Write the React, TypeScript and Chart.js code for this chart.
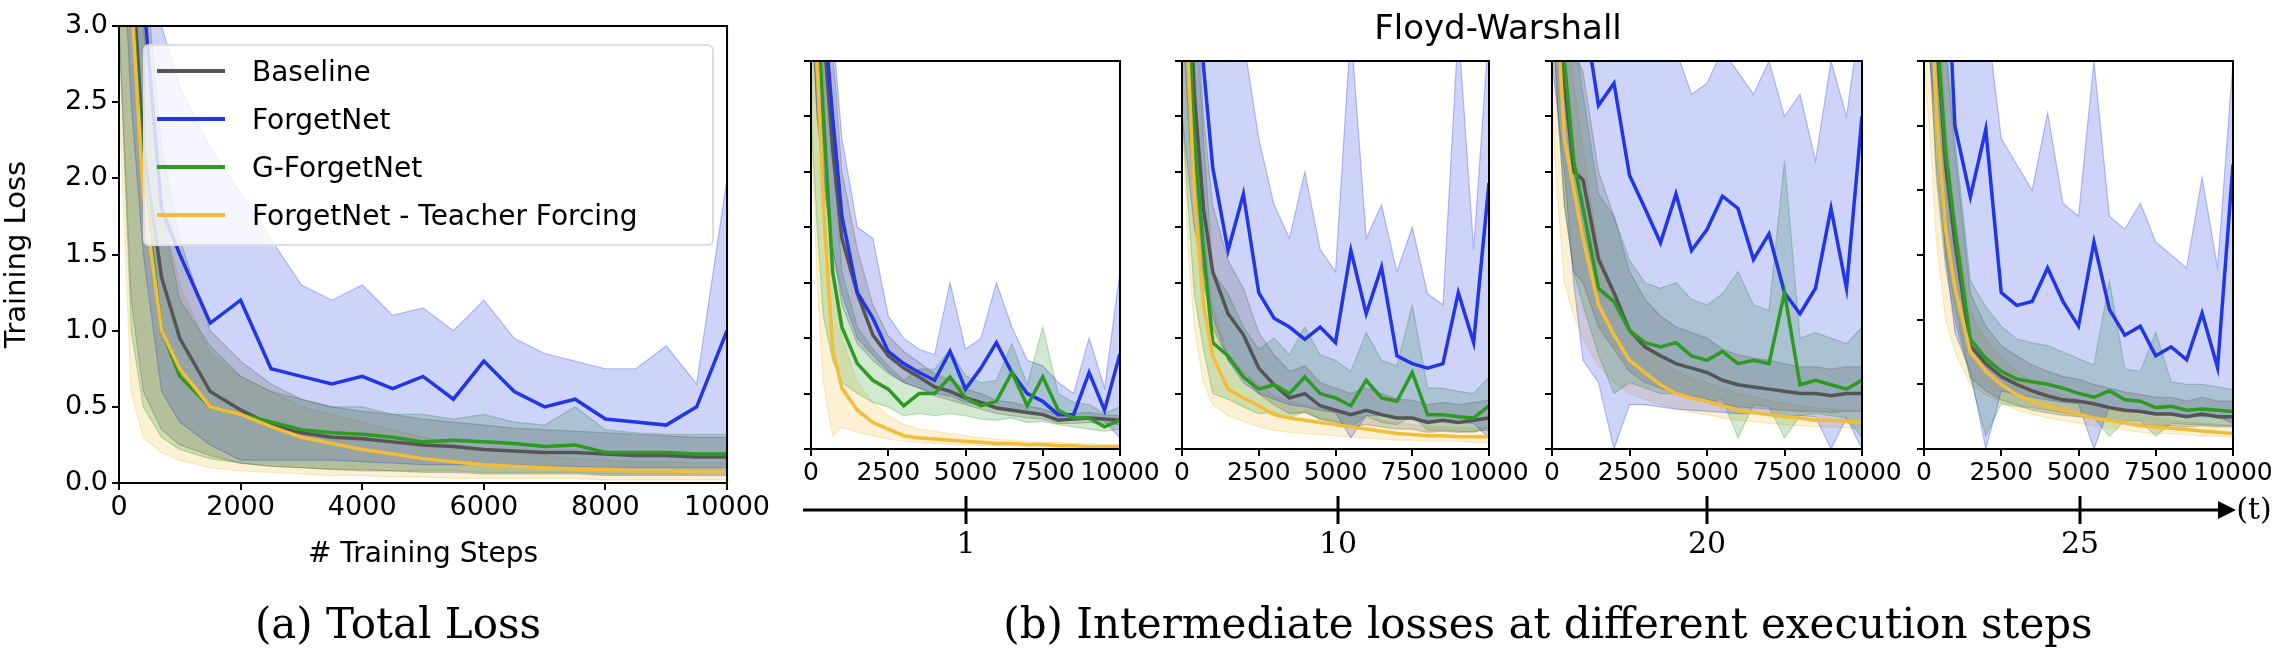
import React, { useEffect, useRef } from 'react';
import Chart from 'chart.js/auto';

const steps = [0, 200, 400, 700, 1000, 1500, 2000, 2500, 3000, 3500, 4000, 4500, 5000, 5500, 6000, 6500, 7000, 7500, 8000, 8500, 9000, 9500, 10000];
const legendLabels = ['Baseline', 'ForgetNet', 'G-ForgetNet', 'ForgetNet - Teacher Forcing'];
const colors = ['#555555', '#2236e6', '#2e9a22', '#f3bd3c'];
const execSteps = ['1', '10', '20', '25'];

// (a) total loss
const aBase = [5, 3.5, 2.2, 1.35, 0.95, 0.6, 0.48, 0.38, 0.33, 0.3, 0.29, 0.27, 0.25, 0.24, 0.22, 0.21, 0.2, 0.2, 0.19, 0.18, 0.18, 0.17, 0.17];
const aBaseLo = [3, 1.2, 0.6, 0.35, 0.25, 0.18, 0.13, 0.11, 0.1, 0.09, 0.08, 0.08, 0.07, 0.07, 0.06, 0.06, 0.06, 0.06, 0.05, 0.05, 0.05, 0.05, 0.05];
const aBaseHi = [6, 5, 3.5, 2.2, 1.6, 1.0, 0.8, 0.65, 0.55, 0.5, 0.47, 0.45, 0.42, 0.4, 0.38, 0.36, 0.35, 0.34, 0.33, 0.32, 0.31, 0.3, 0.3];
const aForget = [6, 5, 3.2, 1.8, 1.5, 1.05, 1.2, 0.75, 0.7, 0.65, 0.7, 0.62, 0.7, 0.55, 0.8, 0.6, 0.5, 0.55, 0.42, 0.4, 0.38, 0.5, 1.0];
const aForgetLo = [4, 2.5, 1.5, 0.6, 0.4, 0.25, 0.15, 0.15, 0.15, 0.15, 0.14, 0.13, 0.12, 0.12, 0.12, 0.12, 0.11, 0.11, 0.1, 0.1, 0.1, 0.1, 0.1];
const aForgetHi = [8, 6, 4, 3, 2.6, 2.2, 1.9, 1.6, 1.3, 1.2, 1.3, 1.1, 1.15, 1.0, 1.2, 0.95, 0.85, 0.8, 0.75, 0.75, 0.9, 0.65, 2.0];
const aG = [5, 3.3, 2.0, 1.0, 0.7, 0.5, 0.45, 0.4, 0.35, 0.33, 0.32, 0.3, 0.27, 0.28, 0.27, 0.26, 0.24, 0.25, 0.2, 0.2, 0.2, 0.19, 0.19];
const aGLo = [3, 1.0, 0.5, 0.3, 0.22, 0.16, 0.13, 0.11, 0.1, 0.09, 0.09, 0.08, 0.08, 0.08, 0.07, 0.07, 0.07, 0.07, 0.06, 0.06, 0.06, 0.06, 0.06];
const aGHi = [6, 4.5, 3, 1.8, 1.2, 0.9, 0.7, 0.6, 0.55, 0.5, 0.5, 0.45, 0.45, 0.42, 0.45, 0.4, 0.38, 0.5, 0.35, 0.33, 0.32, 0.32, 0.32];
const aTF = [5, 3.2, 1.9, 1.0, 0.75, 0.5, 0.45, 0.37, 0.3, 0.26, 0.22, 0.19, 0.16, 0.14, 0.12, 0.11, 0.1, 0.09, 0.09, 0.08, 0.08, 0.07, 0.07];
const aTFLo = [2.5, 0.6, 0.3, 0.2, 0.15, 0.1, 0.08, 0.07, 0.06, 0.05, 0.05, 0.04, 0.04, 0.03, 0.03, 0.03, 0.03, 0.03, 0.02, 0.02, 0.02, 0.02, 0.02];
const aTFHi = [6, 4.5, 3, 1.8, 1.3, 0.85, 0.7, 0.6, 0.5, 0.45, 0.4, 0.35, 0.3, 0.25, 0.22, 0.2, 0.18, 0.16, 0.15, 0.14, 0.14, 0.13, 0.13];

// (b) t = 1
const b1Base = [6, 5, 3.8, 2.7, 1.9, 1.4, 1.03, 0.84, 0.73, 0.65, 0.56, 0.52, 0.46, 0.42, 0.37, 0.35, 0.33, 0.31, 0.26, 0.27, 0.28, 0.27, 0.26];
const b1BaseLo = [4, 3, 2.4, 1.8, 1.3, 0.95, 0.8, 0.68, 0.6, 0.55, 0.48, 0.44, 0.4, 0.36, 0.32, 0.3, 0.28, 0.27, 0.23, 0.23, 0.24, 0.23, 0.22];
const b1BaseHi = [8, 7, 5, 3.6, 2.5, 1.8, 1.3, 1.02, 0.88, 0.78, 0.68, 0.62, 0.54, 0.5, 0.44, 0.42, 0.39, 0.36, 0.31, 0.32, 0.33, 0.31, 0.3];
const b1Forget = [6, 5, 4, 3.0, 2.1, 1.41, 1.18, 0.88, 0.77, 0.69, 0.62, 0.88, 0.54, 0.73, 0.96, 0.69, 0.5, 0.43, 0.31, 0.31, 0.69, 0.35, 0.86];
const b1ForgetLo = [4, 3, 2.5, 1.8, 1.4, 1.0, 0.85, 0.7, 0.6, 0.55, 0.5, 0.48, 0.42, 0.4, 0.38, 0.36, 0.33, 0.3, 0.27, 0.26, 0.28, 0.25, 0.1];
const b1ForgetHi = [8, 6, 5, 3.8, 2.8, 2.0, 1.9, 1.2, 1.0, 0.9, 0.85, 1.5, 0.9, 1.0, 1.5, 1.1, 0.8, 0.75, 0.6, 0.5, 1.0, 0.55, 1.6];
const b1G = [5, 4, 3, 1.6, 1.1, 0.77, 0.62, 0.54, 0.39, 0.5, 0.5, 0.65, 0.46, 0.39, 0.43, 0.69, 0.39, 0.65, 0.35, 0.28, 0.28, 0.2, 0.26];
const b1GLo = [3, 2, 1.2, 0.8, 0.6, 0.5, 0.42, 0.38, 0.3, 0.32, 0.3, 0.32, 0.3, 0.27, 0.26, 0.28, 0.24, 0.25, 0.22, 0.2, 0.18, 0.16, 0.18];
const b1GHi = [7, 6, 4.5, 2.8, 1.6, 1.1, 0.9, 0.75, 0.62, 0.72, 0.72, 0.9, 0.66, 0.6, 0.62, 0.95, 0.58, 1.1, 0.5, 0.42, 0.4, 0.32, 0.38];
const b1TF = [5, 3.5, 2.2, 0.9, 0.55, 0.35, 0.24, 0.18, 0.12, 0.1, 0.09, 0.08, 0.07, 0.06, 0.05, 0.05, 0.04, 0.04, 0.03, 0.03, 0.02, 0.02, 0.02];
const b1TFLo = [3, 1.5, 0.6, 0.12, 0.2, 0.15, 0.12, 0.09, 0.07, 0.06, 0.05, 0.04, 0.04, 0.03, 0.03, 0.03, 0.02, 0.02, 0.02, 0.01, 0.01, 0.01, 0.01];
const b1TFHi = [7, 5, 3.5, 1.6, 1.0, 0.6, 0.42, 0.3, 0.22, 0.18, 0.16, 0.14, 0.12, 0.1, 0.09, 0.08, 0.07, 0.06, 0.06, 0.05, 0.05, 0.04, 0.04];

// (b) t = 10
const b10Base = [6, 4.5, 3.2, 2.17, 1.6, 1.22, 1.03, 0.73, 0.58, 0.46, 0.5, 0.39, 0.35, 0.31, 0.35, 0.31, 0.28, 0.28, 0.24, 0.26, 0.24, 0.26, 0.28];
const b10BaseLo = [4, 3, 2.2, 1.5, 1.1, 0.8, 0.65, 0.5, 0.4, 0.32, 0.33, 0.27, 0.24, 0.2, 0.22, 0.2, 0.18, 0.18, 0.15, 0.16, 0.15, 0.16, 0.17];
const b10BaseHi = [8, 6.5, 4.5, 3, 2.2, 1.7, 1.45, 1.05, 0.85, 0.7, 0.75, 0.6, 0.55, 0.5, 0.55, 0.5, 0.45, 0.44, 0.4, 0.42, 0.4, 0.42, 0.44];
const b10Forget = [7, 6, 5, 3.45, 2.54, 1.79, 2.3, 1.41, 1.18, 1.1, 0.99, 1.1, 0.96, 1.79, 1.22, 1.64, 0.84, 0.77, 0.73, 0.77, 1.41, 0.96, 2.4];
const b10ForgetLo = [3, 2.5, 2, 1.6, 1.2, 0.8, 0.6, 0.5, 0.45, 0.4, 0.38, 0.35, 0.33, 0.1, 0.3, 0.3, 0.28, 0.27, 0.26, 0.25, 0.24, 0.23, 0.1];
const b10ForgetHi = [8, 7, 6, 5, 4, 3.8, 3.7, 2.8, 2.2, 1.9, 2.5, 1.8, 1.6, 3.8, 1.9, 2.2, 1.6, 2.0, 1.4, 1.3, 3.8, 1.8, 3.8];
const b10G = [5, 4, 2.8, 1.8, 0.96, 0.84, 0.65, 0.54, 0.58, 0.5, 0.65, 0.5, 0.46, 0.39, 0.62, 0.46, 0.43, 0.69, 0.31, 0.31, 0.29, 0.28, 0.39];
const b10GLo = [3, 2.2, 1.4, 0.9, 0.5, 0.45, 0.38, 0.32, 0.33, 0.28, 0.34, 0.27, 0.25, 0.2, 0.3, 0.24, 0.22, 0.3, 0.17, 0.17, 0.16, 0.15, 0.2];
const b10GHi = [7, 6, 4.2, 2.8, 1.6, 1.4, 1.1, 0.9, 1.0, 0.85, 1.1, 0.85, 0.8, 0.7, 1.05, 0.8, 0.75, 1.3, 0.55, 0.55, 0.52, 0.5, 0.65];
const b10TF = [5, 3.5, 2.3, 1.3, 0.84, 0.54, 0.46, 0.39, 0.31, 0.28, 0.26, 0.24, 0.22, 0.2, 0.18, 0.16, 0.14, 0.13, 0.12, 0.12, 0.11, 0.11, 0.11];
const b10TFLo = [3, 1.8, 1.1, 0.6, 0.4, 0.3, 0.25, 0.2, 0.17, 0.15, 0.14, 0.13, 0.12, 0.11, 0.1, 0.09, 0.08, 0.08, 0.07, 0.07, 0.07, 0.06, 0.06];
const b10TFHi = [7, 5, 3.5, 2.0, 1.3, 0.85, 0.7, 0.58, 0.48, 0.43, 0.4, 0.37, 0.34, 0.31, 0.28, 0.26, 0.24, 0.22, 0.2, 0.2, 0.19, 0.19, 0.19];

// (b) t = 20
const b20Base = [6, 4.5, 3.3, 2.5, 2.43, 1.71, 1.41, 1.07, 0.92, 0.84, 0.77, 0.73, 0.69, 0.62, 0.58, 0.56, 0.54, 0.52, 0.5, 0.5, 0.48, 0.5, 0.5];
const b20BaseLo = [4, 3, 2.2, 1.6, 1.5, 1.1, 0.9, 0.7, 0.6, 0.55, 0.5, 0.48, 0.45, 0.4, 0.38, 0.37, 0.36, 0.35, 0.34, 0.34, 0.33, 0.34, 0.34];
const b20BaseHi = [8, 6.5, 4.8, 3.6, 3.4, 2.5, 2.1, 1.6, 1.35, 1.2, 1.1, 1.05, 1.0, 0.9, 0.85, 0.82, 0.8, 0.77, 0.74, 0.74, 0.72, 0.74, 0.74];
const b20Forget = [7, 6, 5, 4.5, 4, 3.1, 3.3, 2.47, 2.17, 1.86, 2.3, 1.79, 1.98, 2.28, 2.17, 1.71, 1.94, 1.41, 1.22, 1.45, 2.17, 1.45, 3.0];
const b20ForgetLo = [3.5, 3, 2.5, 1.5, 0.8, 0.6, 0.0, 0.4, 0.4, 0.38, 0.36, 0.35, 0.34, 0.33, 0.32, 0.32, 0.31, 0.3, 0.3, 0.29, 0.0, 0.28, 0.0];
const b20ForgetHi = [8, 8, 8, 8, 6, 5, 5, 4, 3.8, 3.5, 3.6, 3.2, 3.3, 3.6, 3.4, 3.2, 3.5, 3.0, 3.2, 2.6, 3.5, 3.0, 4];
const b20G = [6, 4.8, 3.5, 2.6, 2.17, 1.45, 1.33, 1.07, 0.96, 0.92, 0.96, 0.84, 0.8, 0.88, 0.77, 0.8, 0.77, 1.41, 0.58, 0.62, 0.58, 0.54, 0.62];
const b20GLo = [4, 3, 2.2, 1.6, 1.3, 0.85, 0.5, 0.6, 0.55, 0.5, 0.5, 0.45, 0.42, 0.45, 0.1, 0.4, 0.38, 0.1, 0.3, 0.32, 0.3, 0.28, 0.1];
const b20GHi = [8, 7, 5, 3.8, 3.2, 2.3, 2.1, 1.7, 1.5, 1.45, 1.5, 1.35, 1.3, 1.4, 1.6, 1.3, 1.25, 2.6, 1.0, 1.05, 1.0, 0.95, 1.1];
const b20TF = [5, 3.8, 2.8, 2.35, 1.9, 1.3, 1.03, 0.8, 0.69, 0.58, 0.5, 0.46, 0.43, 0.39, 0.35, 0.33, 0.31, 0.29, 0.28, 0.26, 0.26, 0.25, 0.24];
const b20TFLo = [3, 2.2, 1.5, 1.2, 1.0, 0.75, 0.6, 0.5, 0.45, 0.4, 0.36, 0.33, 0.31, 0.28, 0.26, 0.25, 0.23, 0.22, 0.21, 0.2, 0.2, 0.19, 0.19];
const b20TFHi = [7, 5.5, 4, 3.3, 2.7, 1.8, 1.4, 1.1, 0.95, 0.8, 0.7, 0.64, 0.6, 0.55, 0.5, 0.47, 0.44, 0.41, 0.39, 0.37, 0.36, 0.35, 0.34];

// (b) t = 25
const b25Base = [6, 4.5, 3.2, 2.2, 1.6, 0.8, 0.66, 0.56, 0.5, 0.45, 0.41, 0.38, 0.37, 0.35, 0.32, 0.3, 0.29, 0.27, 0.27, 0.25, 0.27, 0.25, 0.25];
const b25BaseLo = [4, 3, 2.1, 1.4, 1.0, 0.55, 0.45, 0.38, 0.34, 0.3, 0.28, 0.26, 0.25, 0.24, 0.22, 0.2, 0.19, 0.18, 0.18, 0.17, 0.18, 0.17, 0.17];
const b25BaseHi = [8, 6.5, 4.5, 3.1, 2.3, 1.2, 0.95, 0.8, 0.72, 0.65, 0.6, 0.56, 0.54, 0.5, 0.47, 0.44, 0.42, 0.4, 0.4, 0.37, 0.4, 0.37, 0.37];
const b25Forget = [7, 6, 5, 4, 2.5, 1.95, 2.47, 1.21, 1.11, 1.14, 1.4, 1.14, 0.95, 1.6, 1.08, 0.88, 0.95, 0.72, 0.79, 0.69, 1.05, 0.63, 2.2];
const b25ForgetLo = [3.5, 3, 2.5, 1.5, 0.9, 0.6, 0.0, 0.45, 0.42, 0.4, 0.38, 0.36, 0.35, 0.0, 0.33, 0.3, 0.3, 0.28, 0.27, 0.26, 0.25, 0.25, 0.2];
const b25ForgetHi = [8, 8, 7, 6, 4.5, 3.5, 3.4, 2.4, 2.2, 2.0, 2.6, 1.9, 1.8, 3.0, 1.8, 1.7, 1.9, 1.6, 1.5, 1.4, 2.1, 1.4, 3.0];
const b25G = [6, 4.6, 3.3, 2.3, 1.7, 0.85, 0.7, 0.6, 0.54, 0.52, 0.5, 0.47, 0.43, 0.4, 0.45, 0.38, 0.37, 0.32, 0.33, 0.3, 0.31, 0.3, 0.29];
const b25GLo = [4, 3, 2.2, 1.5, 1.1, 0.55, 0.1, 0.35, 0.33, 0.32, 0.3, 0.28, 0.26, 0.24, 0.1, 0.22, 0.22, 0.1, 0.2, 0.19, 0.19, 0.18, 0.18];
const b25GHi = [8, 6.5, 4.6, 3.2, 2.4, 1.3, 1.1, 0.95, 0.85, 0.82, 0.8, 0.75, 0.7, 0.65, 1.3, 0.62, 0.6, 0.9, 0.52, 0.5, 0.5, 0.48, 0.46];
const b25TF = [5, 3.8, 2.6, 1.7, 1.25, 0.75, 0.6, 0.5, 0.42, 0.37, 0.33, 0.3, 0.27, 0.24, 0.22, 0.2, 0.18, 0.17, 0.16, 0.15, 0.14, 0.13, 0.12];
const b25TFLo = [3, 2.4, 1.6, 1.0, 0.75, 0.5, 0.42, 0.36, 0.3, 0.27, 0.24, 0.22, 0.2, 0.18, 0.16, 0.15, 0.13, 0.12, 0.12, 0.11, 0.1, 0.1, 0.09];
const b25TFHi = [7, 5.5, 3.8, 2.5, 1.8, 1.05, 0.85, 0.7, 0.6, 0.52, 0.46, 0.42, 0.38, 0.34, 0.31, 0.28, 0.26, 0.24, 0.22, 0.21, 0.2, 0.19, 0.18];

type Band = [number[], number[], number[]];

const alpha = (hex: string, a: number) => {
  const n = parseInt(hex.slice(1), 16);
  return `rgba(${(n >> 16) & 255},${(n >> 8) & 255},${n & 255},${a})`;
};

const frame = {
  id: 'frame',
  afterDraw(chart: any) {
    const { ctx, chartArea: c } = chart;
    ctx.save();
    ctx.strokeStyle = '#000';
    ctx.lineWidth = 2;
    ctx.strokeRect(c.left, c.top, c.right - c.left, c.bottom - c.top);
    ctx.restore();
  },
};

interface PanelProps {
  series: Band[];
  yMax: number;
  xStep: number;
  left: number;
  width: number;
  height: number;
  yAxisW: number;
  xAxisH: number;
  padTop: number;
  padRight: number;
  yLabels: boolean;
  tickSize: number;
  xTitle?: string;
  yTitle?: string;
}

function Panel(p: PanelProps) {
  const ref = useRef<HTMLCanvasElement>(null);

  useEffect(() => {
    if (!ref.current) return;
    const datasets: any[] = [];
    p.series.forEach(([mean, lo, hi], i) => {
      datasets.push({
        data: steps.map((s, k) => ({ x: s, y: hi[k] })),
        borderColor: alpha(colors[i], 0.3), borderWidth: 1.2,
        backgroundColor: alpha(colors[i], 0.22), fill: '+1', order: 20 + i,
      });
      datasets.push({
        data: steps.map((s, k) => ({ x: s, y: lo[k] })),
        borderColor: alpha(colors[i], 0.3), borderWidth: 1.2, fill: false, order: 20 + i,
      });
    });
    const lineOrder = [4, 3, 2, 1];
    p.series.forEach(([mean], i) => {
      datasets.push({
        data: steps.map((s, k) => ({ x: s, y: mean[k] })),
        borderColor: colors[i], borderWidth: 3.5, fill: false, order: lineOrder[i],
      });
    });
    const font = { family: 'DejaVu Sans', size: p.tickSize };
    const chart = new Chart(ref.current, {
      type: 'line',
      data: { datasets },
      plugins: [frame],
      options: {
        animation: false,
        responsive: true,
        maintainAspectRatio: false,
        elements: { point: { radius: 0 }, line: { tension: 0 } },
        layout: { padding: { top: p.padTop, right: p.padRight, left: 0, bottom: 0 } },
        plugins: { legend: { display: false }, tooltip: { enabled: false } },
        scales: {
          x: {
            type: 'linear', min: 0, max: 10000,
            afterFit: (s: any) => { s.height = p.xAxisH; },
            ticks: { stepSize: p.xStep, color: '#000', font, padding: 2, maxRotation: 0, autoSkip: false, callback: (v: any) => String(v) },
            grid: { drawOnChartArea: false, drawTicks: true, tickLength: 7, color: '#000', lineWidth: 2 },
            border: { display: true, color: '#000', width: 2 },
            title: { display: !!p.xTitle, text: p.xTitle, color: '#000', font: { family: 'DejaVu Sans', size: 28 }, padding: { top: 0, bottom: 8 } },
          },
          y: {
            min: 0, max: p.yMax,
            afterFit: (s: any) => { s.width = p.yAxisW; },
            ticks: {
              stepSize: 0.5, color: '#000', font, padding: 4,
              callback: (v: any) => (p.yLabels ? Number(v).toFixed(1) : ''),
            },
            grid: { drawOnChartArea: false, drawTicks: true, tickLength: 7, color: '#000', lineWidth: 2 },
            border: { display: true, color: '#000', width: 2 },
            title: { display: !!p.yTitle, text: p.yTitle, color: '#000', font: { family: 'DejaVu Sans', size: 29 }, padding: { top: 0, bottom: 6 } },
          },
        },
      },
    });
    return () => chart.destroy();
  }, []);

  return (
    <div style={{ position: 'absolute', left: p.left, top: 0, width: p.width, height: p.height }}>
      <canvas ref={ref}></canvas>
    </div>
  );
}

const small: { left: number; plotW: number; yMax: number; series: Band[] }[] = [
  { left: 811, plotW: 309, yMax: 3.5, series: [[b1Base, b1BaseLo, b1BaseHi], [b1Forget, b1ForgetLo, b1ForgetHi], [b1G, b1GLo, b1GHi], [b1TF, b1TFLo, b1TFHi]] },
  { left: 1182, plotW: 307, yMax: 3.5, series: [[b10Base, b10BaseLo, b10BaseHi], [b10Forget, b10ForgetLo, b10ForgetHi], [b10G, b10GLo, b10GHi], [b10TF, b10TFLo, b10TFHi]] },
  { left: 1552, plotW: 310, yMax: 3.5, series: [[b20Base, b20BaseLo, b20BaseHi], [b20Forget, b20ForgetLo, b20ForgetHi], [b20G, b20GLo, b20GHi], [b20TF, b20TFLo, b20TFHi]] },
  { left: 1924, plotW: 309, yMax: 3.0, series: [[b25Base, b25BaseLo, b25BaseHi], [b25Forget, b25ForgetLo, b25ForgetHi], [b25G, b25GLo, b25GHi], [b25TF, b25TFLo, b25TFHi]] },
];
const tickXs = [966, 1338, 1707, 2080];

export default function App() {
  const serif = { fontFamily: 'DejaVu Serif', color: '#000', position: 'absolute' as const, whiteSpace: 'nowrap' as const };
  return (
    <div style={{ position: 'absolute', left: 0, top: 0, width: 2273, height: 656, background: '#fff', overflow: 'hidden' }}>
      <Panel
        series={[[aBase, aBaseLo, aBaseHi], [aForget, aForgetLo, aForgetHi], [aG, aGLo, aGHi], [aTF, aTFLo, aTFHi]]}
        yMax={3} xStep={2000} left={0} width={772} height={580} yAxisW={119} xAxisH={97}
        padTop={26} padRight={41} yLabels tickSize={27} xTitle="# Training Steps" yTitle="Training Loss"
      />
      {/* legend */}
      <div style={{ position: 'absolute', left: 143, top: 44, width: 571, height: 202, background: 'rgba(255,255,255,0.8)', border: '2px solid #ddd', borderRadius: 6, boxSizing: 'border-box' }}>
        {legendLabels.map((l, i) => (
          <div key={l} style={{ position: 'absolute', left: 12, top: 25 + i * 48 - 20, height: 40, display: 'flex', alignItems: 'center' }}>
            <div style={{ width: 68, height: 4, background: colors[i], marginRight: 27 }} />
            <span style={{ fontFamily: 'DejaVu Sans', fontSize: 28, color: '#000' }}>{l}</span>
          </div>
        ))}
      </div>
      {small.map((s, i) => (
        <Panel key={i} series={s.series} yMax={s.yMax} xStep={2500} left={s.left - 30} width={s.plotW + 30 + 45} height={500}
          yAxisW={30} xAxisH={51} padTop={61} padRight={45} yLabels={false} tickSize={25} />
      ))}
      <div style={{ ...serif, fontFamily: 'DejaVu Sans', fontSize: 34, left: 1498, top: 27, transform: 'translate(-50%,-50%)' }}>Floyd-Warshall</div>
      <svg style={{ position: 'absolute', left: 0, top: 0 }} width={2273} height={656}>
        <line x1={803} y1={510} x2={2222} y2={510} stroke="#000" strokeWidth={3} />
        <polygon points="2218,501 2236,510 2218,519" fill="#000" />
        {tickXs.map((x) => <line key={x} x1={x} y1={496} x2={x} y2={524} stroke="#000" strokeWidth={3} />)}
      </svg>
      {execSteps.map((t, i) => (
        <div key={t} style={{ ...serif, fontSize: 30, left: tickXs[i], top: 542, transform: 'translate(-50%,-50%)' }}>{t}</div>
      ))}
      <div style={{ ...serif, fontSize: 30, left: 2254, top: 508, transform: 'translate(-50%,-50%)' }}>(t)</div>
      <div style={{ ...serif, fontSize: 42, left: 398, top: 623, transform: 'translate(-50%,-50%)' }}>(a) Total Loss</div>
      <div style={{ ...serif, fontSize: 42, left: 1548, top: 623, transform: 'translate(-50%,-50%)' }}>(b) Intermediate losses at different execution steps</div>
    </div>
  );
}
